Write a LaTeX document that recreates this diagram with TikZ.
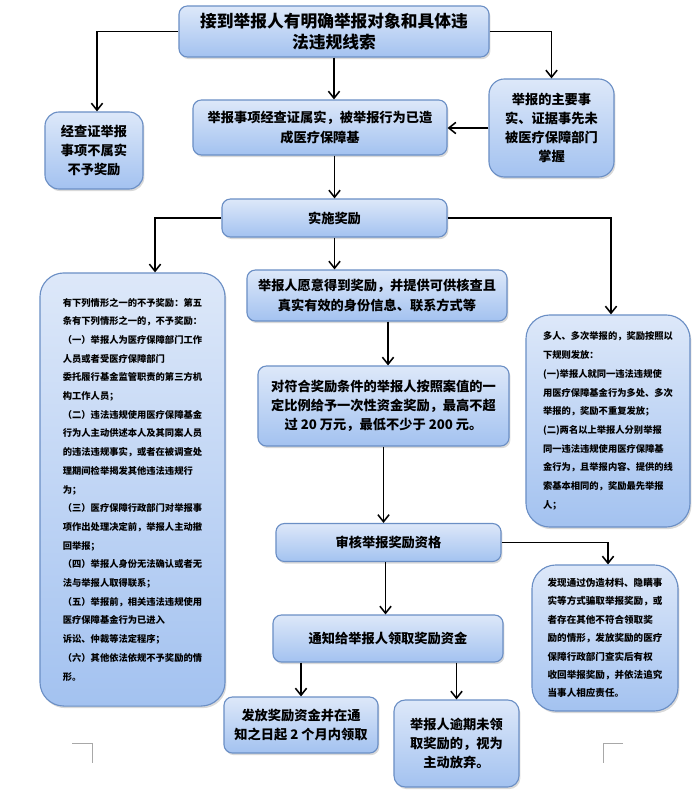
\documentclass[tikz,border=0pt]{standalone}
\usepackage{fontspec}
\newfontfamily\cjk{Noto Sans CJK SC}
\usetikzlibrary{arrows.meta,shadows}

\definecolor{boxtop}{HTML}{DDE8F9}
\definecolor{boxbot}{HTML}{A3C2F0}
\definecolor{boxline}{HTML}{6B8FC5}
\definecolor{cropgray}{HTML}{A8A8A8}

\begin{document}
\begin{tikzpicture}[
x=0.025cm,y=-0.025cm,
flowbox/.style={
  draw=boxline,
  line width=0.8pt,
  rounded corners=6pt,
  top color=boxtop,
  bottom color=boxbot,
  drop shadow={opacity=0.3,shadow xshift=1pt,shadow yshift=-1.5pt},
  align=center,
  inner sep=0pt,
  font=\cjk\bfseries\fontsize{9.4}{13.6}\selectfont},
notebox/.style={
  flowbox,
  rounded corners=17pt,
  align=left,
  font=\cjk\bfseries\fontsize{6.6}{13.3}\selectfont},
flow/.style={-{Straight Barb[length=5pt,width=8pt]},line width=1.1pt}
]

\useasboundingbox (0,0) rectangle (695,794);

%%%%%%%%%%%%%%%%%%%%%%%%%%%%%%%%%%%%%%%%%%%%%%%%%%%%%%%%%%%%%%
% CLUE RECEIVED
%%%%%%%%%%%%%%%%%%%%%%%%%%%%%%%%%%%%%%%%%%%%%%%%%%%%%%%%%%%%%%

\node[
flowbox,
minimum width=7.75cm,
minimum height=1.275cm,
font=\cjk\bfseries\fontsize{11.9}{14.5}\selectfont
](clue)
at (334,31.5)
{接到举报人有明确举报对象和具体违\\法违规线索};

\node[
flowbox,
rounded corners=10pt,
minimum width=2.45cm,
minimum height=1.925cm
](notreal)
at (94,150.5)
{经查证举报\\事项不属实\\不予奖励};

\node[
flowbox,
minimum width=6.35cm,
minimum height=1.375cm
](verified)
at (320,127.5)
{举报事项经查证属实，被举报行为已造\\成医疗保障基};

\node[
flowbox,
rounded corners=11pt,
minimum width=3.125cm,
minimum height=2.45cm
](unknown)
at (551.5,128)
{举报的主要事\\实、证据事先未\\被医疗保障部门\\掌握};

%%%%%%%%%%%%%%%%%%%%%%%%%%%%%%%%%%%%%%%%%%%%%%%%%%%%%%%%%%%%%%
% REWARD
%%%%%%%%%%%%%%%%%%%%%%%%%%%%%%%%%%%%%%%%%%%%%%%%%%%%%%%%%%%%%%

\node[
flowbox,
minimum width=5.625cm,
minimum height=0.95cm
](reward)
at (334.5,218)
{实施奖励};

\node[
notebox,
minimum width=4.625cm,
minimum height=10.825cm
](excluded)
at (132.5,489.5)
{有下列情形之一的不予奖励：第五\\
条有下列情形之一的，不予奖励：\\
（一）举报人为医疗保障部门工作\\
人员或者受医疗保障部门\\
委托履行基金监管职责的第三方机\\
构工作人员；\\
（二）违法违规使用医疗保障基金\\
行为人主动供述本人及其同案人员\\
的违法违规事实，或者在被调查处\\
理期间检举揭发其他违法违规行\\
为；\\
（三）医疗保障行政部门对举报事\\
项作出处理决定前，举报人主动撤\\
回举报；\\
（四）举报人身份无法确认或者无\\
法与举报人取得联系；\\
（五）举报前，相关违法违规使用\\
医疗保障基金行为已进入\\
诉讼、仲裁等法定程序；\\
（六）其他依法依规不予奖励的情\\
形。};

\node[
flowbox,
minimum width=6.5cm,
minimum height=1.275cm
](willing)
at (377,295.5)
{举报人愿意得到奖励，并提供可供核查且\\真实有效的身份信息、联系方式等};

\node[
flowbox,
minimum width=6.275cm,
minimum height=2cm
](amount)
at (383.5,406)
{对符合奖励条件的举报人按照案值的一\\定比例给予一次性资金奖励，最高不超\\过 20 万元，最低不少于 200 元。};

\node[
notebox,
minimum width=4.1cm,
minimum height=5.3cm
](multi)
at (608,421)
{多人、多次举报的，奖励按照以\\
下规则发放：\\
(一)举报人就同一违法违规使\\
用医疗保障基金行为多处、多次\\
举报的，奖励不重复发放；\\
(二)两名以上举报人分别举报\\
同一违法违规使用医疗保障基\\
金行为，且举报内容、提供的线\\
索基本相同的，奖励最先举报\\
人；};

%%%%%%%%%%%%%%%%%%%%%%%%%%%%%%%%%%%%%%%%%%%%%%%%%%%%%%%%%%%%%%
% REVIEW AND PAYMENT
%%%%%%%%%%%%%%%%%%%%%%%%%%%%%%%%%%%%%%%%%%%%%%%%%%%%%%%%%%%%%%

\node[
flowbox,
minimum width=5.625cm,
minimum height=0.95cm
](review)
at (388.5,542.5)
{审核举报奖励资格};

\node[
notebox,
font=\cjk\bfseries\fontsize{6.8}{13.1}\selectfont,
minimum width=3.65cm,
minimum height=3.65cm
](revoke)
at (605,638)
{发现通过伪造材料、隐瞒事\\
实等方式骗取举报奖励，或\\
者存在其他不符合领取奖\\
励的情形，发放奖励的医疗\\
保障行政部门查实后有权\\
收回举报奖励，并依法追究\\
当事人相应责任。};

\node[
flowbox,
minimum width=5.75cm,
minimum height=1.175cm
](notify)
at (388,638.5)
{通知给举报人领取奖励资金};

\node[
flowbox,
minimum width=3.85cm,
minimum height=1.4cm
](pay)
at (301,725)
{发放奖励资金并在通\\知之日起 2 个月内领取};

\node[
flowbox,
rounded corners=8pt,
minimum width=3.125cm,
minimum height=2.175cm
](expire)
at (456.5,743.5)
{举报人逾期未领\\取奖励的，视为\\主动放弃。};

%%%%%%%%%%%%%%%%%%%%%%%%%%%%%%%%%%%%%%%%%%%%%%%%%%%%%%%%%%%%%%
% CONNECTIONS
%%%%%%%%%%%%%%%%%%%%%%%%%%%%%%%%%%%%%%%%%%%%%%%%%%%%%%%%%%%%%%

\draw[flow] (clue.west) -| ([xshift=0.075cm]notreal.north);
\draw[flow] (clue.east) -| (unknown.north);
\draw[flow] (clue.south) -- (clue.south |- verified.north);
\draw[flow] (unknown.west) -- (unknown.west -| verified.east);
\draw[flow] (reward.north |- verified.south) -- (reward.north);
\draw[flow] (reward.west) -| ([xshift=0.5625cm]excluded.north);
\draw[flow] (reward.east) -| ([xshift=0.075cm]multi.north);
\draw[flow] (reward.south) -- (reward.south |- willing.north);
\draw[flow] ([xshift=0.275cm]willing.south) -- ([xshift=0.275cm]willing.south |- amount.north);
\draw[flow] (amount.south) -- (amount.south |- review.north);
\draw[flow] (review.east) -| ([xshift=0.075cm]revoke.north);
\draw[flow] ([xshift=-0.075cm]review.south) -- ([xshift=-0.075cm]review.south |- notify.north);
\draw[flow] (pay.north |- notify.south) -- (pay.north);
\draw[flow] (expire.north |- notify.south) -- (expire.north);

% page corner marks
\draw[cropgray,line width=0.5pt] (72,743) -- (92,743) -- (92,763);
\draw[cropgray,line width=0.5pt] (623,743) -- (603,743) -- (603,763);

\end{tikzpicture}
\end{document}
